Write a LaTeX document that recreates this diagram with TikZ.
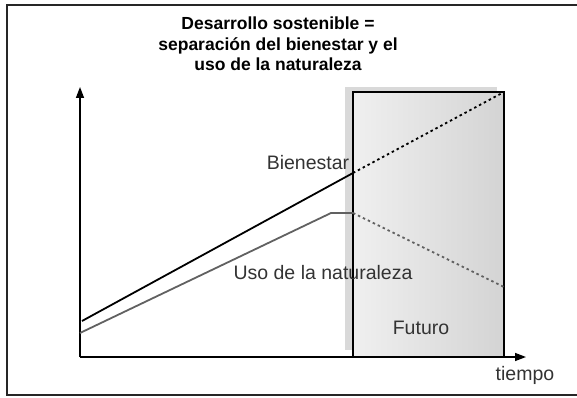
\documentclass[tikz,border=0pt]{standalone}
\usepackage{fontspec}
\setmainfont{Liberation Sans}
\usetikzlibrary{arrows.meta}

\tikzset{
  lbl/.style={text=black!80, font=\fontsize{19.5}{22}\selectfont, inner sep=0pt},
  axis/.style={line width=1.4pt, -{Triangle[length=11pt,width=8pt]}}
}

\begin{document}
\begin{tikzpicture}[x=1pt,y=-1pt]
\useasboundingbox (0,0) rectangle (577,398);
\draw[line width=2.5pt, black!85] (577,5) -- (7,5) -- (7,395) -- (577,395);
\fill[black!15] (345,87) rectangle (497,350);
\shade[left color=black!6, right color=black!17] (353,92) rectangle (504,357);
\draw[line width=1.2pt] (353,357) -- (353,92) -- (504,92) -- (504,357);
\draw[axis] (80,357) -- (80,87);
\draw[axis] (80,357) -- (526,357);
\draw[line width=1.8pt] (82,321) -- (353,173);
\draw[line width=1.8pt, dash pattern=on 2.5pt off 3pt] (353,173) -- (504,92);
\draw[line width=1.8pt, black!62] (80,333) -- (331,213) -- (353,213);
\draw[line width=1.8pt, black!62, dash pattern=on 2.5pt off 3pt] (353,213) -- (504,287);
\node[font=\fontsize{17.5}{20.5}\selectfont\bfseries, align=center, inner sep=0pt] (title) at (278,44) {Desarrollo sostenible =\\separación del bienestar y el\\uso de la naturaleza};
\node[lbl] (bien) at (308,163) {Bienestar};
\node[lbl] (uso) at (323,273) {Uso de la naturaleza};
\node[lbl] (fut) at (421,328) {Futuro};
\node[lbl] (tiempo) at (525,375) {tiempo};
\end{tikzpicture}
\end{document}
